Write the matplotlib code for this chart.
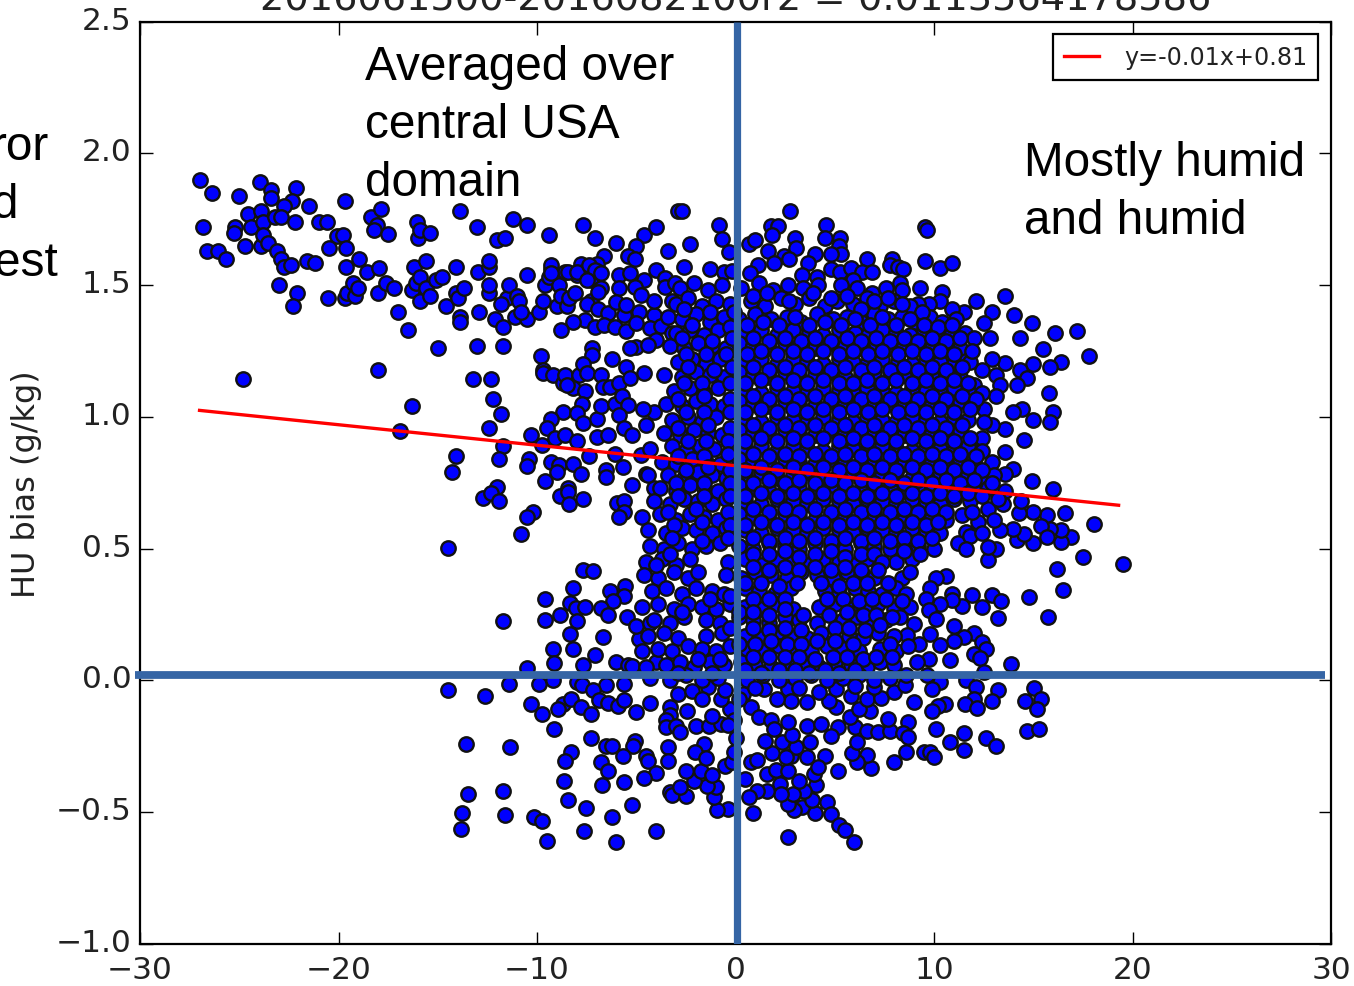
import numpy as np
import matplotlib
matplotlib.use("Agg")
import matplotlib.pyplot as plt
from matplotlib.transforms import ScaledTranslation

plt.style.use('classic')

# values, (humidity difference, HU bias)
upper_left = [(-26.99,1.90),(-26.35,1.85),(-25.0,1.84),(-23.95,1.89),(-23.4,1.86),(-23.4,1.83),(-22.16,1.87),(-22.33,1.82),
    (-22.77,1.80),(-21.5,1.80),(-19.67,1.82),(-26.85,1.72),(-25.2,1.72),(-25.28,1.70),(-24.54,1.77),(-23.9,1.78),(-24.4,1.72),
    (-23.8,1.74),(-23.2,1.76),(-22.9,1.76),(-22.2,1.74),(-21,1.74),(-20.6,1.74),(-26.6,1.63),(-26.05,1.63),(-25.65,1.60),
    (-24.7,1.65),(-23.9,1.65),(-23.8,1.69),(-23.55,1.66),(-23.1,1.63),(-22.9,1.60),(-22.77,1.57),(-22.4,1.575),(-21.6,1.59),
    (-21.2,1.585),(-20.1,1.685),(-19.75,1.69),(-20.5,1.64),(-19.6,1.64),(-18.95,1.60),(-19.6,1.57),(-18.55,1.55),(-17.95,1.565),
    (-23,1.50),(-22.07,1.47),(-22.3,1.42),(-20.55,1.45),(-19.67,1.45),(-19.56,1.47),(-19.16,1.46),(-19.27,1.51),(-19,1.49),
    (-18.35,1.76),(-17.85,1.79),(-18.07,1.73),(-18.2,1.71),(-17.5,1.695),(-16.06,1.74),(-16,1.68),(-15.9,1.71),(-15.4,1.70),
    (-13.9,1.78),(-13,1.72),(-11.2,1.75),(-10.5,1.73),(-9.4,1.69),(-12,1.67),(-11.6,1.68),(-7.7,1.73),(-7.1,1.68),(-6,1.66),
    (-6.6,1.61),(-4.6,1.69),(-4.0,1.72),(-5,1.65),(-3.4,1.63),(-5.4,1.61),(-5.07,1.60),(-2.9,1.78),(-16.2,1.57),(-15.6,1.59),
    (-14.1,1.57),(-12.95,1.55),(-12.4,1.57),(-12.4,1.59),(-10.5,1.54)]

left_band = [(-18.0,1.47),(-17.6,1.51),(-17.2,1.49),(-17.0,1.40),(-16.3,1.48),(-16.1,1.51),(-15.9,1.44),(-15.9,1.53),(-15.6,1.49),
    (-15.4,1.46),(-15.1,1.52),(-14.8,1.53),(-14.6,1.42),(-14.1,1.47),(-14.0,1.45),(-13.7,1.49),(-13.9,1.38),(-13.9,1.36),(-16.5,1.33),
    (-15,1.26),(-12.9,1.40),(-12.4,1.47),(-12.4,1.50),(-12.1,1.37),(-11.7,1.34),(-11.5,1.45),(-11.8,1.43),(-11.4,1.50),(-11.0,1.46),
    (-11.1,1.38),(-10.5,1.37),(-10.9,1.44),(-10.8,1.40),(-9.9,1.40),(-9.7,1.44),(-9.6,1.50),(-9.4,1.53),(-9.3,1.56),(-9,1.42),
    (-8.9,1.50),(-8.8,1.46),(-8.5,1.42),(-8.4,1.45),(-8.6,1.55),(-8.1,1.47),(-8.0,1.54),(-7.8,1.58),(-7.7,1.55),(-7.3,1.52),(-7.0,1.58),
    (-6.9,1.55),(-6.8,1.49),(-7.3,1.44),(-9.3,1.577),(-9.3,1.545),(-8.45,1.55),(-8,1.55),(-7.4,1.577),(-7.1,1.558),(-6.8,1.545),
    (-7.5,1.52),(-6.95,1.475),(-7.5,1.427),(-6.95,1.41),(-6.4,1.393),(-5.6,1.387),(-4.85,1.40),(-4.1,1.387),(-7.6,1.368),(-7.1,1.34),
    (-6.6,1.35),(-6.05,1.34),(-5.5,1.326),(-5,1.355),(-4.3,1.336),(-3.75,1.346),(-4,1.292),(-3.2,1.317),(-5,1.266),(-4.4,1.273),
    (-5.85,1.54),(-5.3,1.545),(-4.6,1.52),(-4,1.558),(-3.55,1.526),(-5.85,1.488),(-5.07,1.495),(-4.1,1.44),(-4.75,1.463),(-3.55,1.495),
    (-3.05,1.507),(-3.2,1.44),(-6,1.437),(-5.5,1.425),(-8.2,1.36),(-8.8,1.33)]

left_middle = [(-13,1.27),(-11.7,1.27),(-9.8,1.23),(-9.7,1.18),(-9.7,1.165),(-9.2,1.16),(-8.7,1.13),(-8.6,1.16),(-7.9,1.16),(-8.2,1.11),
    (-8.5,1.12),(-24.8,1.145),(-18,1.18),(-13.2,1.145),(-12.3,1.145),(-12.2,1.07),(-11.8,1.01),(-16.3,1.04),(-16.9,0.945),(-12.4,0.96),
    (-11.7,0.89),(-14.1,0.85),(-14.3,0.79),(-11.9,0.84),(-7.25,1.26),(-7.25,1.235),(-7.7,1.2),(-6.2,1.22),(-7.5,1.165),(-6.8,1.16),
    (-5.5,1.19),(-5.3,1.26),(-6.7,1.115),(-6.3,1.115),(-5.85,1.13),(-5.3,1.146),(-4.6,1.165),(-7.6,1.10),(-7.75,1.05),(-8.7,1.02),
    (-8,1.015),(-9.3,0.994),(-9.5,0.96),(-10.3,0.93),(-9.77,0.893),(-9.1,0.92),(-8.6,0.93),(-8,0.91),(-7.7,0.978),(-7,0.925),(-7,0.994),
    (-6.8,1.04),(-6.05,1.05),(-5.7,1.08),(-5.4,1.045),(-5.85,1.007),(-5.6,0.96),(-6.4,0.93),(-5.2,0.93),(-4.5,0.97),(-4.1,1.02),
    (-4.65,1.03),(-7.4,0.85),(-6.05,0.86),(-4.75,0.855),(-10.4,0.84),(-10.5,0.813),(-9.3,0.83),(-8.9,0.817),(-9,0.79),(-8.2,0.823),
    (-7.8,0.785),(-6.5,0.798),(-6.5,0.772),(-9.6,0.756),(-5.65,0.81),(-5.2,0.74),(-4.5,0.785),(-8.45,0.73),(-12,0.735),(-4.1,0.73),
    (-12.7,0.693),(-12.3,0.71),(-11.9,0.68),(-8.85,0.70),(-8.45,0.715),(-8.4,0.67),(-7.7,0.69),(-5.95,0.675),(-5.6,0.68),(-5.6,0.64),
    (-5.85,0.62),(-10.2,0.64),(-10.5,0.62),(-10.8,0.555),(-14.5,0.504)]

lower_left = [(-7.7,0.42),(-7.2,0.415),(-8.2,0.35),(-6.3,0.34),(-5.55,0.36),(-9.6,0.31),(-5.6,0.32),(-8.35,0.294),(-6.15,0.30),(-8.05,0.275),
    (-7.6,0.28),(-6.8,0.275),(-8.85,0.247),(-6.4,0.25),(-5.45,0.24),(-11.7,0.227),(-9.6,0.23),(-8.0,0.225),(-8.35,0.178),(-6.7,0.164),
    (-4.85,0.156),(-5,0.205),(-4.3,0.22),(-9.2,0.12),(-8.2,0.118),(-7.1,0.095),(-9.15,0.066),(-7.7,0.06),(-6,0.07),(-5.4,0.057),(-5.2,0.055),
    (-10.5,0.048),(-4,0.07),(-11.4,-0.013),(-9.9,-0.013),(-9.2,0),(-8,-0.006),(-7.75,-0.016),(-6.5,-0.019),(-5.6,-0.013),(-14.5,-0.035),
    (-12.6,-0.06),(-7.2,-0.035),(-10.3,-0.09),(-8.7,-0.09),(-8.3,-0.07),(-7.8,-0.10),(-6.9,-0.073),(-6.4,-0.085),(-5.9,-0.098),(-5.6,-0.073),
    (-4.3,-0.086),(-9.75,-0.129),(-8.95,-0.11),(-7.3,-0.127),(-5,-0.12),(-3.3,-0.10),(-3.3,-0.13),(-3.5,-0.15),(-3.5,-0.177),(-3,-0.173),
    (-9.15,-0.186),(-7.3,-0.219),(-13.6,-0.24),(-11.35,-0.253),(-6.5,-0.247),(-6.2,-0.25),(-5.07,-0.23),(-5.15,-0.247),(-3.4,-0.253),
    (-8.3,-0.27),(-8.6,-0.304),(-6.8,-0.308),(-5.65,-0.287),(-4.5,-0.285),(-4.4,-0.304),(-3.4,-0.304),(-6.4,-0.345),(-4,-0.35),(-4.6,-0.37),
    (-8.65,-0.38),(-6.75,-0.396),(-5.6,-0.386),(-11.7,-0.418),(-13.5,-0.43),(-3.3,-0.424),(-3.2,-0.433),(-8.45,-0.453),(-5.2,-0.472),
    (-7.55,-0.485),(-13.8,-0.503),(-11.6,-0.512),(-10.15,-0.518),(-9.75,-0.535),(-6.2,-0.519),(-13.85,-0.563),(-7.65,-0.572),(-4,-0.571),
    (-9.5,-0.608),(-6,-0.612)]

lower_right = [(19.5,0.442),(18.05,0.595),(17.5,0.469),(16.6,0.637),(16.2,0.424),(16.5,0.342),(15.75,0.241),(14.77,0.317),(16.9,0.545),(16.4,0.526),
    (16.4,0.57),(15.86,0.574),(15.7,0.627),(15.4,0.586),(15.7,0.545),(15,0.523),(15,0.64),(14.3,0.637),(14.2,0.532),(14.55,0.557),(14,0.576),
    (13.1,0.5),(12.7,0.456),(12.7,0.507),(13.35,0.57),(12.7,0.652),(11.6,0.564),(11.4,0.627),(11.2,0.52),(10.6,0.396),(10.1,0.39),(9.8,0.351),
    (10.9,0.33),(11.9,0.325),(12.9,0.325),(13.4,0.30),(12.4,0.279),(11.4,0.283),(10.9,0.304),(10.3,0.289),(9.6,0.31),(9.74,0.269),(13.2,0.237),
    (10.1,0.234),(9,0.215),(11,0.207),(12,0.181),(11.5,0.165),(11,0.148),(10.3,0.136),(9.8,0.175),(8.65,0.171),(9.24,0.139),(12.4,0.146),
    (12.6,0.12),(12,0.1),(12.3,0.085),(13.9,0.063),(10.8,0.076),(9.74,0.08),(9.15,0.07),(12.5,0.034),(11.6,0),(10.3,-0.004),(9.65,0.019),
    (9.9,-0.032),(12.1,-0.025),(13.2,-0.035),(15.05,-0.028),(14.6,-0.076),(15.4,-0.072),(15.2,-0.108),(12.9,-0.078),(12,-0.072),(11.55,-0.088),
    (12.15,-0.105),(10.55,-0.091),(10.2,-0.097),(9.9,-0.114),(9,-0.082),(8.7,-0.158),(10.1,-0.186),(11.5,-0.2),(12.6,-0.219),(13.1,-0.247),
    (10.8,-0.234),(11.5,-0.262),(14.7,-0.192),(15.27,-0.184),(9.5,-0.27),(9.8,-0.272),(10,-0.289),(8.6,-0.272),(8,-0.31),(6.85,-0.333),
    (6.6,-0.281),(6.14,-0.31),(5.85,-0.275),(5.15,-0.344),(4.5,-0.285),(4.06,-0.396),(4.6,-0.462),(4.83,-0.506),(5.2,-0.548),(5.5,-0.566),
    (5.96,-0.612),(2.64,-0.595),(4.0,-0.504),(3.34,-0.481),(2.97,-0.491),(2.64,-0.469),(3.84,-0.453),(3.47,-0.421),(2.9,-0.43),(3.2,-0.382),
    (2.25,-0.393),(2.3,-0.43),(1.6,-0.421),(1.07,-0.421),(0.68,-0.443),(0.9,-0.504),(-0.37,-0.488),(-0.92,-0.491),(-1.07,-0.443),(-0.96,-0.405),
    (-1.46,-0.399),(-2.5,-0.437),(-2.8,-0.405),(-2.1,-0.38),(-2.5,-0.342),(-1.73,-0.342),(-1.18,-0.358),(-0.53,-0.325),(-0.2,-0.31),(0.78,-0.308),
    (1.1,-0.3),(0.46,-0.373),(1.6,-0.354),(2.03,-0.338),(2.64,-0.342),(3.95,-0.354),(4.17,-0.329),(2.82,-0.285),(1.83,-0.276),(3.6,-0.289),
    (3.03,-0.253),(3.74,-0.234),(2.53,-0.29),(2.36,-0.234),(2.86,-0.206),(1.5,-0.228),(-1.6,-0.24),(-2.06,-0.272),(-1.5,-0.295),(-2,-0.171),
    (-1.33,-0.171),(-0.74,-0.167),(-2.82,-0.196),(0.0,-0.22),(-0.1,-0.27),(3.6,-0.171),(4.3,-0.165),(5.15,-0.177),(4.83,-0.209),(6.03,-0.177),
    (6.6,-0.19),(6.14,-0.234),(7.2,-0.196),(7.8,-0.19),(8.43,-0.2),(8.7,-0.215),(5.77,-0.139),(7.7,-0.146),(6.8,-0.114),(6.2,-0.108),(5.05,-0.1),
    (4.7,-0.076),(5.8,-0.057),(6.6,-0.07),(7.34,-0.067),(8,-0.044),(8.54,-0.019),(7,-0.025),(5.05,-0.032),(4.2,-0.044),(3.6,-0.082),(2.64,-0.032),
    (2.8,-0.076),(2.1,-0.07),(1.44,-0.032),(0.78,-0.1),(1.18,-0.139),(1.8,-0.15),(2.64,-0.158),(1.94,-0.184),(-2.45,-0.114),(-1.18,-0.133),
    (-0.3,-0.108),(-0.74,-0.07),(-1.4,-0.025),(-0.53,-0.038)]

top_right = [(2.75,1.78),(4.57,1.73),(9.57,1.72),(9.63,1.71),(-0.81,1.73),(-2.7,1.78),(-2.27,1.655),(-0.7,1.675),(0.68,1.655),(1,1.67),(1.77,1.725),
    (2.16,1.725),(1.83,1.69),(3.0,1.68),(3.03,1.64),(4.5,1.68),(5.26,1.68),(5.22,1.65),(5.33,1.62),(4.83,1.62),(4.02,1.62),(3.63,1.585),(1.66,1.63),
    (2.42,1.61),(2.7,1.60),(1.94,1.585),(1.11,1.575),(0.74,1.545),(-0.31,1.625),(-1.29,1.56),(-0.57,1.55),(-0.2,1.555),(-2.6,1.57),(6.64,1.60),
    (7.9,1.60),(7.8,1.575),(8.17,1.57),(8.43,1.56),(9.57,1.59),(10.3,1.565),(10.9,1.585),(4.83,1.56),(5.26,1.55),(5.8,1.565),(6.36,1.55),(6.9,1.55),
    (3.36,1.54),(4.13,1.53),(2.64,1.50),(4.17,1.50),(5.92,1.52),(8.28,1.507),(9.3,1.49),(13.57,1.46),(14.05,1.387),(14.94,1.355),(16.12,1.32),
    (17.2,1.327),(14.33,1.30),(15.5,1.257),(17.83,1.23),(16.4,1.21),(15.86,1.19),(15,1.2),(14.33,1.18),(13.57,1.203),(14.66,1.146),(14.2,1.12),
    (15.8,1.09),(16,1.02),(15.86,0.98),(15,0.988),(14.44,1.03),(14,1.02),(14.55,0.912),(13.57,0.868),(12.9,0.83),(14,0.804),(14.94,0.757),(16,0.726),
    (13.57,0.785),(12.1,1.44),(12.9,1.40),(11.5,1.40),(10.9,1.41),(12.5,1.355),(12.8,1.30),(11.55,1.32),(12,1.30),(10.4,1.475),(10.3,1.44),(9.74,1.43),
    (9.2,1.427),(11.6,1.22),(12.9,1.22),(12.4,1.18),(13.1,1.16),(13.35,1.12),(12,1.12),(13.1,1.08),(12.5,1.03),(13.57,0.956),(12.4,0.92),(11.9,0.874),
    (12.9,0.97)]

core_high = [(-2.8,1.49),(-2.1,1.51),(-1.4,1.48),(-0.7,1.50),(0.3,1.49),(1.2,1.51),(1.9,1.48),(3.4,1.49),(5.3,1.50),(6.1,1.49),(6.9,1.47),(7.6,1.49),(8.4,1.48),
    (-3,1.43),(-2.4,1.45),(-1.7,1.42),(-1,1.44),(-0.3,1.43),(0.8,1.44),(1.5,1.42),(2.3,1.45),(3,1.43),(3.7,1.45),(4.5,1.42),(5.1,1.44),(5.9,1.43),(6.6,1.45),(7.3,1.42),(8,1.44),(8.8,1.42),
    (-3.4,1.38),(-2.7,1.37),(-2,1.39),(-1.3,1.36),(-0.6,1.38),(0.2,1.37),(1,1.39),(1.8,1.37),(2.6,1.38),(3.3,1.36),(4.1,1.39),(4.9,1.37),(5.6,1.38),(6.3,1.36),(7,1.39),(7.7,1.37),(8.4,1.38),(9.1,1.36),(9.8,1.38),(10.4,1.36),(11.1,1.37),
    (-3,1.32),(-2.3,1.33),(-1.6,1.31),(-0.9,1.33),(0.5,1.32),(1.3,1.33),(2.1,1.31),(2.9,1.33),(3.7,1.32),(4.4,1.31),(5.2,1.33),(6,1.32),(6.7,1.31),(7.4,1.33),(8.1,1.32),(8.8,1.31),(9.5,1.33),(10.2,1.31),(10.9,1.32),
    (-3.3,1.27),(-2.6,1.26),(-1.9,1.28),(-1.2,1.27),(-0.5,1.26),(0.2,1.28),(0.9,1.27),(1.7,1.26),(2.5,1.28),(3.2,1.27),(4,1.26),(4.8,1.28),(5.5,1.27),(6.3,1.26),(7.1,1.28),(7.8,1.26),(8.5,1.27),(9.2,1.28),(9.9,1.26),(10.6,1.27),(11.3,1.26),
    (-2.9,1.21),(-2.2,1.22),(-1.5,1.20),(-0.8,1.22),(0.5,1.21),(1.3,1.22),(2.1,1.20),(2.9,1.22),(3.6,1.21),(4.4,1.20),(5.2,1.22),(5.9,1.21),(6.6,1.20),(7.4,1.22),(8.2,1.21),(8.9,1.20),(9.6,1.22),(10.3,1.21),(11,1.20),(11.8,1.21),
    (-3.6,1.16),(-2.7,1.15),(-2,1.17),(-1.3,1.16),(-0.6,1.15),(0.2,1.17),(0.9,1.16),(1.7,1.15),(2.5,1.17),(3.2,1.15),(4,1.16),(4.8,1.17),(5.5,1.15),(6.3,1.16),(7,1.17),(7.8,1.15),(8.5,1.16),(9.2,1.17),(9.9,1.15),(10.6,1.16),(11.3,1.15),
    (-3.1,1.10),(-2.3,1.11),(-1.6,1.09),(-0.9,1.11),(0.5,1.10),(1.3,1.09),(2.1,1.11),(2.9,1.10),(3.6,1.09),(4.4,1.11),(5.2,1.10),(5.9,1.09),(6.6,1.11),(7.4,1.10),(8.1,1.09),(8.9,1.11),(9.6,1.10),(10.3,1.09),(11,1.11),(11.7,1.10),(12.4,1.09),
    (-3.5,1.05),(-2.7,1.04),(-2,1.06),(-1.3,1.05),(-0.6,1.04),(0.2,1.06),(0.9,1.05),(1.7,1.04),(2.5,1.06),(3.2,1.05),(4,1.04),(4.8,1.06),(5.5,1.05),(6.3,1.04),(7,1.06),(7.8,1.05),(8.5,1.04),(9.2,1.06),(9.9,1.05),(10.6,1.04),(11.3,1.06),(11.9,1.04)]

core_mid = [(-3.2,0.99),(-2.4,1.0),(-1.7,0.98),(-1,1.0),(0.5,0.99),(1.3,0.98),(2.1,1.0),(2.9,0.99),(3.6,0.98),(4.4,1.0),(5.2,0.99),(5.9,0.98),(6.6,1.0),(7.4,0.99),(8.1,0.98),(8.9,1.0),(9.6,0.99),(10.3,0.98),(11,1.0),(11.7,0.99),(12.5,0.98),
    (-3.6,0.94),(-2.8,0.93),(-2.1,0.95),(-1.4,0.94),(-0.7,0.93),(0.2,0.95),(0.9,0.94),(1.7,0.93),(2.5,0.95),(3.2,0.94),(4,0.93),(4.8,0.95),(5.5,0.94),(6.3,0.93),(7,0.95),(7.8,0.94),(8.5,0.93),(9.2,0.95),(9.9,0.94),(10.6,0.93),(11.3,0.95),
    (-4.3,0.88),(-3.2,0.89),(-2.5,0.87),(-1.8,0.89),(-1.1,0.88),(0.5,0.88),(1.3,0.89),(2.1,0.87),(2.9,0.89),(3.6,0.88),(4.4,0.87),(5.2,0.89),(5.9,0.88),(6.6,0.87),(7.4,0.89),(8.1,0.88),(8.9,0.87),(9.6,0.89),(10.3,0.88),(11,0.87),(11.7,0.89),(12.4,0.87),
    (-3.7,0.83),(-3,0.82),(-2.2,0.84),(-1.5,0.83),(-0.8,0.82),(0.2,0.84),(0.9,0.83),(1.7,0.82),(2.5,0.84),(3.2,0.83),(4,0.82),(4.8,0.84),(5.5,0.83),(6.3,0.82),(7,0.84),(7.8,0.83),(8.5,0.82),(9.2,0.84),(9.9,0.83),(10.6,0.82),(11.3,0.84),(12,0.82),
    (-4.4,0.78),(-3.4,0.78),(-2.6,0.77),(-1.9,0.79),(-1.2,0.78),(-0.5,0.77),(0.5,0.78),(1.3,0.79),(2.1,0.77),(2.9,0.78),(3.6,0.79),(4.4,0.77),(5.2,0.78),(5.9,0.79),(6.6,0.77),(7.4,0.78),(8.1,0.79),(8.9,0.77),(9.6,0.78),(10.3,0.79),(11,0.77),(11.7,0.78),(12.4,0.77),(13,0.78),
    (-3.8,0.73),(-3,0.72),(-2.3,0.74),(-1.6,0.73),(-0.9,0.72),(0.2,0.74),(0.9,0.73),(1.7,0.72),(2.5,0.74),(3.2,0.73),(4,0.72),(4.8,0.74),(5.5,0.73),(6.3,0.72),(7,0.74),(7.8,0.73),(8.5,0.72),(9.2,0.74),(9.9,0.73),(10.6,0.72),(11.3,0.74),(12,0.72),(12.7,0.73),(13.6,0.72),
    (-4.1,0.68),(-3.3,0.67),(-2.6,0.69),(-1.9,0.68),(-1.2,0.67),(-0.5,0.69),(0.5,0.68),(1.3,0.67),(2.1,0.69),(2.9,0.68),(3.6,0.67),(4.4,0.69),(5.2,0.68),(5.9,0.67),(6.6,0.69),(7.4,0.68),(8.1,0.67),(8.9,0.69),(9.6,0.68),(10.3,0.67),(11,0.69),(11.8,0.68),(13.5,0.67),(14.4,0.68),
    (-4.7,0.62),(-3.8,0.63),(-3,0.61),(-2.3,0.63),(-1.6,0.62),(-0.9,0.61),(0.2,0.63),(0.9,0.62),(1.7,0.61),(2.5,0.63),(3.2,0.62),(4,0.61),(4.8,0.63),(5.5,0.62),(6.3,0.61),(7,0.63),(7.8,0.62),(8.5,0.61),(9.2,0.63),(9.9,0.62),(10.6,0.61),(12.2,0.60),(13,0.61),
    (-4.4,0.57),(-3.5,0.56),(-2.7,0.58),(-2,0.57),(-1.2,0.56),(-0.5,0.58),(0.5,0.57),(1.3,0.56),(2.1,0.58),(2.9,0.57),(3.6,0.56),(4.4,0.58),(5.2,0.57),(5.9,0.56),(6.6,0.58),(7.4,0.57),(8.1,0.56),(8.9,0.58),(9.6,0.57),(10.3,0.56),(11.8,0.55),(12.4,0.56),
    (-4.3,0.51),(-3.6,0.50),(-2.9,0.52),(-2.2,0.50),(-1.5,0.51),(-0.8,0.52),(0.2,0.51),(0.9,0.50),(1.7,0.52),(2.5,0.51),(3.2,0.50),(4,0.52),(4.8,0.51),(5.5,0.50),(6.3,0.52),(7,0.51),(7.8,0.50),(8.5,0.52),(9.2,0.51),(10.0,0.50),(11.6,0.50),
    (-4.5,0.45),(-3.7,0.46),(-3,0.44),(-2.3,0.46),(-0.4,0.45),(0.5,0.46),(1.3,0.44),(2.1,0.46),(2.9,0.45),(3.6,0.44),(4.4,0.46),(5.2,0.45),(5.9,0.44),(6.6,0.46),(8.1,0.45),(8.9,0.46)]

core_low = [(-4.6,0.40),(-3.9,0.39),(-3.1,0.41),(-2.4,0.39),(-1.9,0.41),(-0.5,0.40),(0.3,0.39),(1,0.41),(1.8,0.40),(2.6,0.39),(3.3,0.41),(4.1,0.40),(4.9,0.39),(5.6,0.41),(6.4,0.40),(7,0.39),(8.4,0.39),(8.8,0.41),
    (-4.2,0.34),(-3.5,0.35),(-2.7,0.33),(-2,0.35),(-1.2,0.34),(-0.6,0.33),(0.5,0.35),(1.2,0.34),(2,0.33),(2.8,0.35),(4.5,0.34),(5.2,0.33),(6,0.35),(6.7,0.34),(7.4,0.33),(8.1,0.35),(8.6,0.33),
    (-4.7,0.28),(-3.9,0.29),(-3.1,0.27),(-2.4,0.29),(-1.7,0.28),(-1,0.27),(-0.3,0.29),(0.5,0.28),(1.3,0.27),(2.1,0.29),(2.9,0.27),(4.2,0.28),(5,0.29),(5.8,0.27),(6.5,0.28),(7.2,0.29),(8,0.27),(8.8,0.28),
    (-4.1,0.23),(-3.3,0.22),(-2.6,0.24),(-1.5,0.23),(-0.8,0.22),(0.2,0.24),(0.9,0.23),(1.7,0.22),(2.5,0.24),(3.2,0.23),(4.1,0.22),(5.4,0.23),(6.1,0.24),(6.9,0.22),(7.6,0.23),(8.3,0.24),
    (-4.4,0.17),(-3.6,0.18),(-2.9,0.16),(-1.5,0.17),(-0.7,0.18),(0.5,0.17),(1.3,0.16),(2.1,0.18),(2.9,0.17),(3.6,0.16),(4.3,0.18),(5.7,0.17),(6.4,0.16),(7.2,0.18),(8,0.17),
    (-3.9,0.12),(-3.2,0.11),(-2.4,0.13),(-1.7,0.12),(-1,0.11),(-0.3,0.13),(0.6,0.12),(1.4,0.11),(2.2,0.13),(3,0.12),(3.8,0.11),(4.6,0.13),(5.4,0.12),(6.2,0.11),(7.3,0.12),(8.1,0.11),(8.7,0.13),
    (-3.5,0.06),(-2.8,0.07),(-2.1,0.05),(-1.3,0.07),(-0.6,0.06),(0.3,0.07),(1,0.06),(1.8,0.05),(2.6,0.07),(3.4,0.06),(4.2,0.05),(5,0.07),(5.8,0.06),(6.6,0.05),(7.3,0.07),(8,0.06),
    (-4.3,0.01),(-3.3,0.0),(-2.5,0.02),(-1.7,0.0),(-0.9,0.01),(0.6,0.0),(1.4,0.02),(2.2,0.0),(3,0.01),(3.8,0.02),(4.6,0.0),(5.4,0.01),(6.2,0.02),(7,0.0),(7.8,0.01),(8.6,0.02),
    (-4.7,0.11),(-4.5,0.05),(-2.9,-0.05),(-2.2,-0.04),(-1.7,-0.07),(0.4,-0.05),(1,-0.03),(3.2,-0.03),(6,-0.02),(-0.1,-0.15),(-0.4,-0.17),(0.2,-0.07)]

# second pass over the dense blob, points sitting between the first ones
blob_upper = [(0.9,1.46),(1.6,1.47),(2.7,1.44),(3.9,1.47),(4.8,1.45),(5.6,1.46),(6.3,1.41),(7,1.44),(7.7,1.45),(8.4,1.43),(9.4,1.40),(-1.3,1.40),(-2.6,1.41),(-0.1,1.40),
    (0.6,1.35),(1.4,1.36),(2.2,1.35),(3,1.38),(3.7,1.35),(4.5,1.36),(5.3,1.35),(6,1.37),(6.8,1.35),(7.4,1.38),(8.1,1.35),(8.8,1.37),(9.5,1.35),(10.2,1.34),(10.9,1.35),(-2.2,1.35),(-0.3,1.34),
    (0.9,1.30),(1.7,1.29),(2.5,1.30),(3.3,1.29),(4,1.30),(4.8,1.29),(5.6,1.30),(6.3,1.29),(7.1,1.30),(7.8,1.29),(8.5,1.30),(9.2,1.29),(9.9,1.30),(10.6,1.29),(11.3,1.30),(-2.7,1.30),(-1.2,1.29),(-0.2,1.30),
    (0.6,1.24),(1.3,1.25),(2.1,1.24),(2.9,1.25),(3.6,1.24),(4.4,1.25),(5.2,1.24),(5.9,1.25),(6.7,1.24),(7.4,1.25),(8.2,1.24),(8.9,1.25),(9.6,1.24),(10.3,1.25),(11,1.24),(11.9,1.25),(-2.5,1.24),(-1.5,1.24),(-0.5,1.24),
    (0.9,1.19),(1.7,1.18),(2.5,1.19),(3.2,1.18),(4,1.19),(4.8,1.18),(5.5,1.19),(6.3,1.18),(7,1.19),(7.8,1.18),(8.5,1.19),(9.2,1.18),(9.9,1.19),(10.6,1.18),(11.4,1.19),(-2.4,1.19),(-1.1,1.18),(-0.2,1.19),
    (0.5,1.13),(1.3,1.14),(2.1,1.13),(2.9,1.14),(3.6,1.13),(4.4,1.14),(5.2,1.13),(5.9,1.13),(6.6,1.14),(7.4,1.13),(8.1,1.14),(8.9,1.13),(9.6,1.14),(10.3,1.13),(11,1.14),(11.7,1.13),(-2.6,1.13),(-1.7,1.13),(-0.3,1.13),
    (0.9,1.08),(1.7,1.07),(2.5,1.08),(3.2,1.07),(4,1.08),(4.8,1.07),(5.5,1.08),(6.3,1.07),(7,1.08),(7.8,1.07),(8.5,1.08),(9.2,1.07),(9.9,1.08),(10.6,1.07),(11.4,1.08),(12.1,1.07),(-2.9,1.07),(-1.6,1.08),(-0.3,1.07),
    (0.5,1.02),(1.3,1.03),(2.1,1.02),(2.9,1.03),(3.6,1.02),(4.4,1.03),(5.2,1.02),(5.9,1.03),(6.7,1.02),(7.4,1.03),(8.2,1.02),(8.9,1.03),(9.6,1.02),(10.3,1.03),(11,1.02),(11.8,1.03),(-2.5,1.02),(-1.6,1.02),(-0.3,1.02)]

blob_lower = [(0.9,0.97),(1.7,0.96),(2.5,0.97),(3.2,0.96),(4,0.97),(4.8,0.96),(5.5,0.97),(6.3,0.96),(7,0.97),(7.8,0.96),(8.5,0.97),(9.2,0.96),(9.9,0.97),(10.6,0.96),(11.4,0.97),(-2.9,0.96),(-1.4,0.97),(-0.3,0.96),
    (0.5,0.91),(1.3,0.92),(2.1,0.91),(2.9,0.92),(3.6,0.91),(4.4,0.92),(5.2,0.91),(5.9,0.92),(6.6,0.91),(7.4,0.92),(8.1,0.91),(8.9,0.92),(9.6,0.91),(10.3,0.92),(11,0.91),(11.8,0.92),(-2.4,0.91),(-1.5,0.91),(-0.4,0.91),
    (0.9,0.86),(1.7,0.85),(2.5,0.86),(3.2,0.85),(4,0.86),(4.8,0.85),(5.5,0.86),(6.3,0.85),(7,0.86),(7.8,0.85),(8.5,0.86),(9.2,0.85),(9.9,0.86),(10.6,0.85),(11.3,0.86),(12.1,0.85),(-2.9,0.85),(-1.6,0.85),(-0.4,0.86),
    (0.5,0.80),(1.3,0.81),(2.1,0.80),(2.9,0.81),(3.6,0.80),(4.4,0.81),(5.2,0.80),(5.9,0.81),(6.6,0.80),(7.4,0.81),(8.1,0.80),(8.9,0.81),(9.6,0.80),(10.3,0.81),(11,0.80),(11.7,0.81),(12.4,0.80),(-2.5,0.80),(-1.4,0.81),(-0.3,0.80),
    (0.9,0.75),(1.7,0.76),(2.5,0.75),(3.2,0.76),(4,0.75),(4.8,0.76),(5.5,0.75),(6.3,0.76),(7,0.75),(7.8,0.76),(8.5,0.75),(9.2,0.76),(9.9,0.75),(10.6,0.76),(11.3,0.75),(12,0.76),(12.9,0.75),(-3,0.75),(-1.6,0.75),(-0.3,0.75),
    (0.5,0.70),(1.3,0.71),(2.1,0.70),(2.9,0.71),(3.6,0.70),(4.4,0.71),(5.2,0.70),(5.9,0.71),(6.6,0.70),(7.4,0.71),(8.1,0.70),(8.9,0.71),(9.6,0.70),(10.3,0.71),(11,0.70),(11.7,0.71),(12.4,0.70),(13.2,0.69),(-2.9,0.70),(-1.6,0.70),(-0.3,0.70),
    (0.9,0.65),(1.7,0.64),(2.5,0.65),(3.2,0.64),(4,0.65),(4.8,0.64),(5.5,0.65),(6.3,0.64),(7,0.65),(7.8,0.64),(8.5,0.65),(9.2,0.64),(9.9,0.65),(10.6,0.64),(11.9,0.64),(-3.4,0.64),(-2,0.65),(-0.4,0.64),
    (0.5,0.59),(1.3,0.60),(2.1,0.59),(2.9,0.60),(3.6,0.59),(4.4,0.60),(5.2,0.59),(5.9,0.60),(6.6,0.59),(7.4,0.60),(8.1,0.59),(8.9,0.60),(9.6,0.59),(10.2,0.60),(-3.1,0.59),(-1.7,0.60),(-0.3,0.59),
    (0.9,0.54),(1.7,0.53),(2.5,0.54),(3.2,0.53),(4,0.54),(4.8,0.53),(5.5,0.54),(6.3,0.53),(7,0.54),(7.8,0.53),(8.5,0.54),(9.2,0.53),(9.9,0.54),(-3.2,0.54),(-1.7,0.53),(-0.4,0.54),
    (0.9,0.48),(1.7,0.48),(2.5,0.49),(3.2,0.47),(4,0.48),(4.8,0.49),(5.5,0.47),(6.3,0.48),(7,0.48),(7.4,0.45),(8.5,0.49),(9.3,0.48),(-3.3,0.48),(-4,0.44),
    (0.9,0.43),(1.7,0.42),(2.5,0.43),(3.2,0.42),(4,0.43),(4.8,0.42),(5.5,0.43),(6.3,0.42),(7.2,0.42),(0.5,0.37),(1.3,0.37),(2.2,0.36),(3.1,0.37),(4.3,0.37),(5.2,0.36),(5.9,0.37),(6.6,0.37),(7.7,0.37),
    (0.9,0.31),(1.7,0.31),(2.5,0.31),(4.6,0.31),(5.4,0.31),(6.2,0.30),(6.9,0.31),(7.6,0.31),(8.4,0.30),(-1.3,0.31),(-0.3,0.32),(-2.7,0.26),(0.2,0.26),(0.9,0.26),(1.7,0.25),(2.5,0.27),(3.4,0.25),(4.7,0.25),(5.6,0.26),(6.4,0.25),(7.1,0.25),(7.9,0.24),
    (0.9,0.20),(1.7,0.19),(2.5,0.20),(3.3,0.19),(5,0.20),(5.7,0.20),(6.5,0.19),(7.3,0.21),(-0.3,0.20),(0.2,0.14),(1,0.14),(1.8,0.15),(2.6,0.14),(3.3,0.14),(4.1,0.15),(5,0.15),(5.9,0.14),(7.8,0.14),
    (0.9,0.09),(1.7,0.09),(2.5,0.09),(3.2,0.09),(4,0.08),(4.9,0.09),(5.6,0.09),(6.4,0.08),(7.1,0.09),(7.9,0.09),(-1.9,0.08),(-0.8,0.08),(0.5,0.04),(1.3,0.03),(2.2,0.04),(3,0.04),(3.7,0.03),(4.5,0.04),(5.2,0.03),(6,0.04),(-2.9,0.03),(-1.2,0.03)]

fit_x = [-27.0, 19.3]
fit_y = [1.025, 0.665]
fit_label = 'y=-0.01x+0.81'

x_ticks = [-30, -20, -10, 0, 10, 20, 30]
y_ticks = [-1.0, -0.5, 0.0, 0.5, 1.0, 1.5, 2.0, 2.5]

title = '2016061500-2016082100r2 = 0.0113564178586'
txt_col = '#222222'


def main():
    groups = [upper_left, left_band, left_middle, lower_left, lower_right, top_right,
              core_high, core_mid, core_low, blob_upper, blob_lower]
    pts = np.array([p for g in groups for p in g])

    fig = plt.figure(figsize=(13.54, 9.87), dpi=100, facecolor='white')
    ax = fig.add_axes([140/1354, 1 - 945/987, (1331-140)/1354, (945-22.7)/987])

    ax.scatter(pts[:, 0], pts[:, 1], s=108, c='#0000ff', edgecolors='#111111', linewidths=1.7, zorder=2)
    ax.plot(fit_x, fit_y, color='#ff0000', lw=2.4, label=fit_label, zorder=3)

    # the pasted-on cross lines
    ax.plot([0.06, 0.06], [-1.0, 2.5], color='#3565a5', lw=5.2, zorder=4, solid_capstyle='butt')
    ax.plot([-30.25, 29.7], [0.022, 0.022], color='#3565a5', lw=5.6, zorder=4, clip_on=False, solid_capstyle='butt')

    ax.set_xlim(-30, 30)
    ax.set_ylim(-1.0, 2.5)
    ax.set_xticks(x_ticks)
    ax.set_yticks(y_ticks)
    ax.tick_params(labelsize=22.5, length=9, width=1, direction='in', labelcolor=txt_col)
    ax.tick_params(axis='x', pad=8)
    ax.tick_params(axis='y', pad=6)
    # y labels sit a little above their ticks
    shift = ScaledTranslation(0, 0.015, fig.dpi_scale_trans)
    for lab in ax.get_yticklabels():
        lab.set_transform(lab.get_transform() + shift)
    for s in ax.spines.values():
        s.set_linewidth(1.6)
    ax.set_ylabel('HU bias (g/kg)', fontsize=23, labelpad=10, color=txt_col)
    ax.set_title(title, fontsize=27.6, y=1.0, pad=9, color=txt_col)

    leg = ax.legend(loc='upper right', fontsize=17.2, fancybox=False, borderaxespad=0.53,
                    handlelength=1.45, numpoints=1, borderpad=0.46, handletextpad=1.05)
    leg.get_frame().set_edgecolor('black')
    leg.get_frame().set_linewidth(1.6)
    for t in leg.get_texts():
        t.set_color(txt_col)

    for txt, px, py, ha in [('Averaged over', 365, 68, 'left'), ('central USA', 365, 126, 'left'), ('domain', 365, 184, 'left'),
                            ('Mostly humid', 1024, 164, 'left'), ('and humid', 1024, 222, 'left'),
                            ('ror', 49, 147, 'right'), ('d', 19, 205, 'right'), ('est', 58, 263, 'right')]:
        fig.text(px/1354, 1 - py/987, txt, ha=ha, va='center', family='Liberation Sans', fontsize=34.4, color='black', zorder=6)

    fig.savefig('out.png', dpi=100, facecolor='white')


if __name__ == "__main__":
    main()
